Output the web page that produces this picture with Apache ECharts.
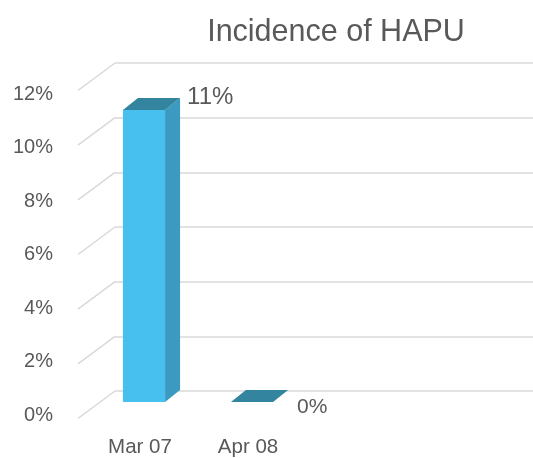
<!DOCTYPE html>
<html>
<head>
<meta charset="utf-8">
<script src="https://cdn.jsdelivr.net/npm/echarts@6/dist/echarts.min.js"></script>
<style>html,body{margin:0;padding:0;background:#fff}#c{width:533px;height:458px}</style>
</head>
<body>
<div id="c"></div>
<script>
var titleText = 'Incidence of HAPU';
var categories = ['Mar 07', 'Apr 08'];
var values = [0.1075, 0];
var valueLabels = ['11%', '0%'];
var yTicks = [0, 0.02, 0.04, 0.06, 0.08, 0.10, 0.12];

var FONT = '"Liberation Sans", Arial, sans-serif';
var TXT = '#595959';
var GRIDC = '#d9d9d9';
var DX = 37, DY = 27.5;      // wall depth offset
var BDX = 15, BDY = 12;      // bar depth offset

var chart = echarts.init(document.getElementById('c'), null, {renderer: 'canvas'});
chart.setOption({
  animation: false,
  backgroundColor: '#fff',
  title: {
    text: titleText, left: 331, top: 12, textAlign: 'center',
    textStyle: {fontFamily: FONT, fontSize: 30.5, fontWeight: 'normal', color: TXT}
  },
  grid: [
    {left: 115, right: 0, top: 63, bottom: 67},
    {left: 61, width: 10, top: 94, bottom: 42.5},
    {left: 90, width: 216, top: 76, bottom: 55}
  ],
  xAxis: [
    {gridIndex: 0, type: 'value', min: 0, max: 1, show: false},
    {gridIndex: 1, type: 'value', min: 0, max: 1, show: false},
    {gridIndex: 2, type: 'category', data: categories,
     axisLine: {show: false}, axisTick: {show: false}, splitLine: {show: false},
     axisLabel: {margin: 35, fontFamily: FONT, fontSize: 20.5, color: TXT, padding: [0, 8, 0, 0]}}
  ],
  yAxis: [
    {gridIndex: 0, type: 'value', min: 0, max: 0.12, interval: 0.02,
     axisLine: {show: false}, axisTick: {show: false}, axisLabel: {show: false},
     splitLine: {lineStyle: {color: GRIDC, width: 1.5}}},
    {gridIndex: 1, type: 'value', min: 0, max: 0.12, interval: 0.02,
     axisLine: {show: false}, axisTick: {show: false}, splitLine: {show: false},
     axisLabel: {margin: 8, fontFamily: FONT, fontSize: 20, color: TXT,
       formatter: function (v) { return Math.round(v * 100) + '%'; }}},
    {gridIndex: 2, type: 'value', min: 0, max: 0.12, show: false}
  ],
  series: [
    {
      type: 'custom', xAxisIndex: 0, yAxisIndex: 0, silent: true,
      data: yTicks.map(function (t) { return [0, t]; }),
      renderItem: function (params, api) {
        var p = api.coord([0, api.value(1)]);
        return {type: 'line', shape: {x1: p[0] - DX, y1: p[1] + DY, x2: p[0], y2: p[1]},
          style: {stroke: GRIDC, lineWidth: 1.5}};
      }
    },
    {
      type: 'custom', xAxisIndex: 2, yAxisIndex: 2, silent: true,
      data: values.map(function (v, i) { return [i, v]; }),
      renderItem: function (params, api) {
        var i = api.value(0), v = api.value(1);
        var top = api.coord([i, v]);
        var base = api.coord([i, 0]);
        var hw = api.size([1, 0])[0] * 0.195;
        var x = top[0], ty = top[1], by = base[1];
        var children = [];
        if (by - ty > 0.5) {
          children.push({type: 'rect', shape: {x: x - hw, y: ty, width: 2 * hw, height: by - ty},
            style: {fill: '#47c0ef'}});
          children.push({type: 'polygon', shape: {points: [[x + hw, ty], [x + hw + BDX, ty - BDY], [x + hw + BDX, by - BDY], [x + hw, by]]},
            style: {fill: '#3c9ac0'}});
        }
        children.push({type: 'polygon', shape: {points: [[x - hw, ty], [x - hw + BDX, ty - BDY], [x + hw + BDX, ty - BDY], [x + hw, ty]]},
          style: {fill: '#32849f'}});
        var zero = v === 0;
        children.push({type: 'text', x: x + hw + BDX + (zero ? 9 : 7), y: zero ? by + 5 : ty - BDY - 1,
          style: {text: valueLabels[params.dataIndex], fill: TXT, fontFamily: FONT,
            fontSize: zero ? 21 : 24, verticalAlign: 'middle', align: 'left'}});
        return {type: 'group', children: children};
      }
    }
  ]
});
</script>
</body>
</html>
